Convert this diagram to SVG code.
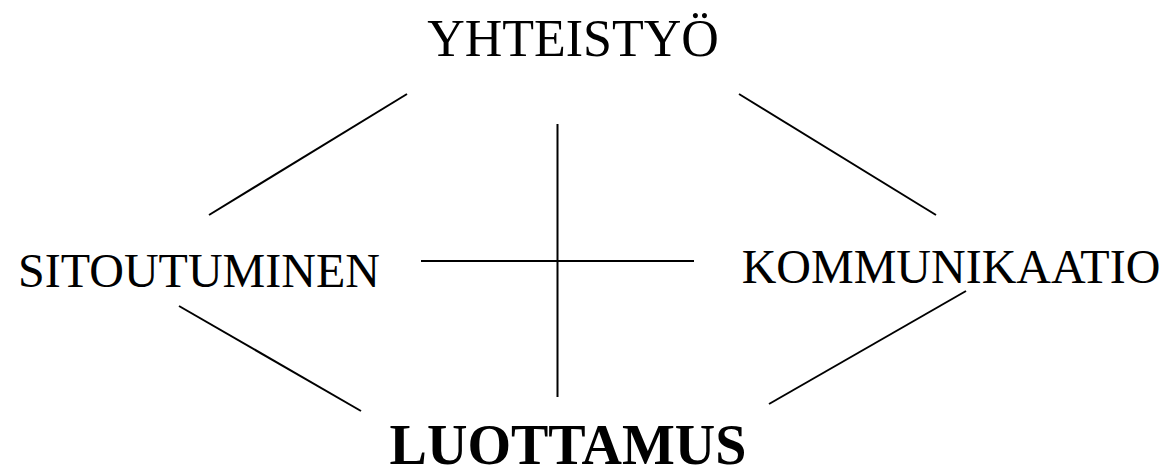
<svg xmlns="http://www.w3.org/2000/svg" width="1171" height="471" viewBox="0 0 1171 471">
<style>
.t{font-family:"Liberation Serif","Times New Roman",serif;font-size:48px;fill:#000;text-anchor:middle}
.h{font-size:52px}
.b{font-weight:bold;font-size:56px}
#connectors line{stroke:#000;stroke-width:2}
</style>
<rect width="1171" height="471" fill="#fff"/>
<g id="connectors">
<line x1="407" y1="94" x2="209" y2="215"/>
<line x1="739" y1="94" x2="936" y2="215"/>
<line x1="179" y1="306" x2="361" y2="411"/>
<line x1="966" y1="291" x2="769" y2="404"/>
<line x1="557.5" y1="124" x2="557.5" y2="397"/>
<line x1="421" y1="261" x2="694" y2="261"/>
</g>
<g id="yhteistyo"><text class="t h" x="573" y="56">YHTEISTYÖ</text></g>
<g id="sitoutuminen"><text class="t" x="199" y="287">SITOUTUMINEN</text></g>
<g id="kommunikaatio"><text class="t" x="951" y="283">KOMMUNIKAATIO</text></g>
<g id="luottamus"><text class="t b" x="568" y="464">LUOTTAMUS</text></g>
</svg>
